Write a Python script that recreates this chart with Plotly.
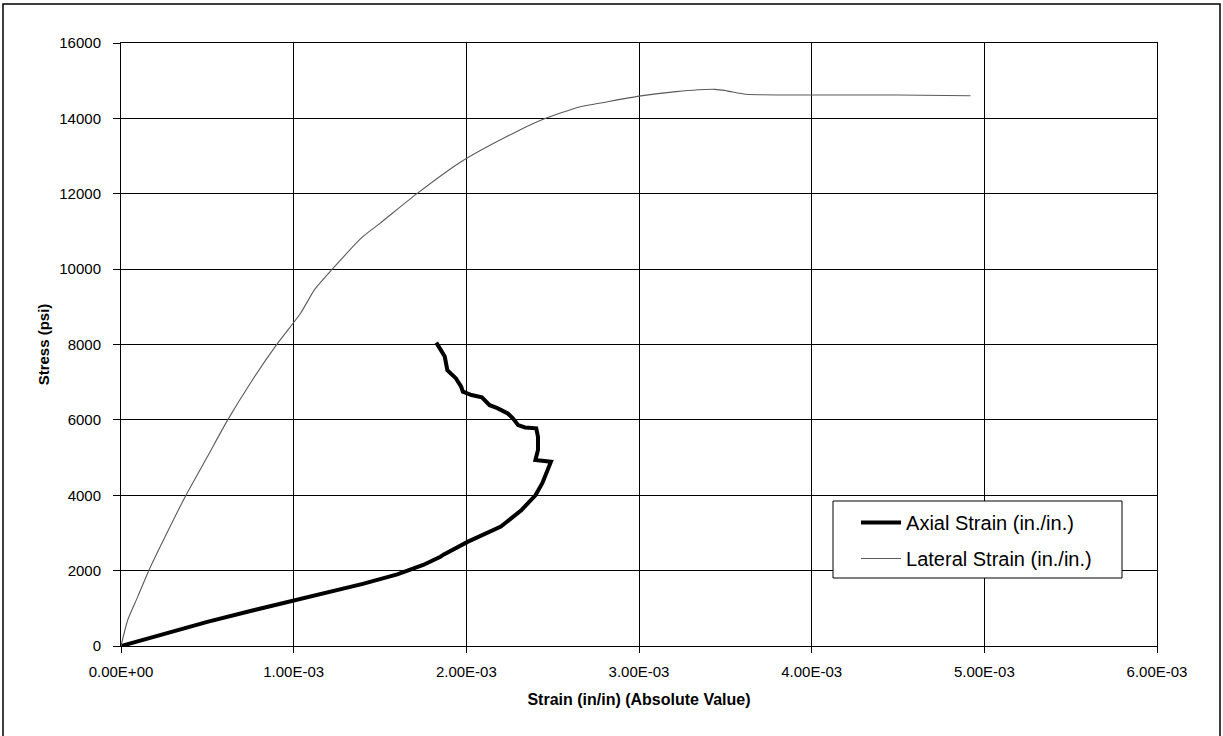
import plotly.graph_objects as go

# Axial strain (thick black)
axial_strain = [0, 0.25e-3, 0.50e-3, 0.75e-3, 1.00e-3, 1.20e-3, 1.40e-3, 1.60e-3, 1.75e-3,
                1.85e-3, 1.87e-3, 2.01e-3, 2.20e-3, 2.32e-3, 2.40e-3, 2.44e-3, 2.49e-3, 2.40e-3, 2.415e-3,
                2.415e-3, 2.405e-3, 2.34e-3, 2.30e-3, 2.27e-3, 2.24e-3, 2.18e-3, 2.135e-3, 2.09e-3,
                2.03e-3, 1.98e-3, 1.97e-3, 1.94e-3, 1.89e-3, 1.875e-3, 1.855e-3, 1.826e-3]
axial_stress = [0, 330, 640, 930, 1200, 1420, 1650, 1900, 2150,
                2370, 2430, 2770, 3170, 3610, 4000, 4320, 4890, 4935, 5200,
                5550, 5775, 5800, 5860, 6040, 6170, 6310, 6390, 6600,
                6660, 6750, 6880, 7100, 7320, 7680, 7850, 8050]

# Lateral strain (thin gray)
lateral_strain = [0, 0.039e-3, 0.097e-3, 0.16e-3, 0.25e-3, 0.377e-3, 0.50e-3, 0.618e-3, 0.75e-3,
                  0.90e-3, 1.04e-3, 1.12e-3, 1.22e-3, 1.40e-3, 1.50e-3, 1.71e-3, 1.97e-3, 2.27e-3,
                  2.445e-3, 2.66e-3, 2.77e-3, 3.00e-3, 3.215e-3, 3.44e-3, 3.51e-3, 3.62e-3, 4.00e-3,
                  4.50e-3, 4.92e-3]
lateral_stress = [0, 690, 1310, 1990, 2850, 4006, 5020, 6000, 6980,
                  7990, 8830, 9450, 9980, 10860, 11215, 11990, 12850, 13600,
                  13975, 14310, 14400, 14590, 14710, 14770, 14730, 14640, 14620,
                  14620, 14600]

x_ticks = [0, 0.001, 0.002, 0.003, 0.004, 0.005, 0.006]
x_tick_labels = ["0.00E+00", "1.00E-03", "2.00E-03", "3.00E-03", "4.00E-03", "5.00E-03", "6.00E-03"]
y_ticks = [0, 2000, 4000, 6000, 8000, 10000, 12000, 14000, 16000]

FONT = "Liberation Sans, Arial, sans-serif"

fig = go.Figure()
fig.add_trace(go.Scatter(x=axial_strain, y=axial_stress, mode="lines",
                         name="Axial Strain (in./in.)", legendgroup="a",
                         line=dict(color="black", width=4)))
fig.add_trace(go.Scatter(x=lateral_strain, y=lateral_stress, mode="lines",
                         name="Lateral Strain (in./in.)", legendgroup="b",
                         line=dict(color="#5a5a5a", width=1.1, shape="spline", smoothing=0.6)))

fig.update_layout(
    width=1223, height=736,
    margin=dict(l=121, r=66, t=43, b=90),
    paper_bgcolor="white", plot_bgcolor="white",
    font=dict(family=FONT, color="black", size=15),
    showlegend=True,
    legend=dict(x=0.7095, y=0.2371, xanchor="left", yanchor="top",
                bgcolor="rgba(0,0,0,0)", borderwidth=0, itemwidth=40,
                font=dict(size=20, family=FONT, color="black"),
                traceorder="grouped", tracegroupgap=7),
    xaxis=dict(range=[0, 0.006], tickvals=x_ticks, ticktext=x_tick_labels,
               showgrid=True, gridcolor="black", gridwidth=1, zeroline=False,
               showline=True, linecolor="black", linewidth=1, mirror=True,
               ticks="outside", ticklen=6, tickcolor="black",
               tickfont=dict(size=15), ticklabelstandoff=6,
               title=dict(text="<b>Strain (in/in) (Absolute Value)</b>",
                          font=dict(size=16), standoff=14)),
    yaxis=dict(range=[0, 16000], tickvals=y_ticks, tickformat="d",
               showgrid=True, gridcolor="black", gridwidth=1, zeroline=False,
               showline=True, linecolor="black", linewidth=1, mirror=True,
               ticks="outside", ticklen=7, tickcolor="black",
               tickfont=dict(size=15), ticklabelstandoff=9,
               title=dict(text="<b>Stress (psi)</b>", font=dict(size=15), standoff=6)),
)

# legend box (drawn as a shape so its size matches the reference)
fig.add_shape(type="rect", xref="paper", yref="paper",
              x0=(833 - 121) / 1036, x1=(1122 - 121) / 1036,
              y0=(646 - 578) / 603, y1=(646 - 501) / 603,
              line=dict(color="black", width=1), fillcolor="white", layer="above")

# outer chart frame
fig.add_shape(type="rect", xref="paper", yref="paper",
              x0=-0.1139, x1=1.0608, y0=-0.16, y1=1.0647,
              line=dict(color="black", width=1.5), fillcolor="rgba(0,0,0,0)", layer="below")

fig.write_html("out.html", config={"displayModeBar": False},
               post_script="document.body.style.margin='0px';document.body.style.overflow='hidden';")
